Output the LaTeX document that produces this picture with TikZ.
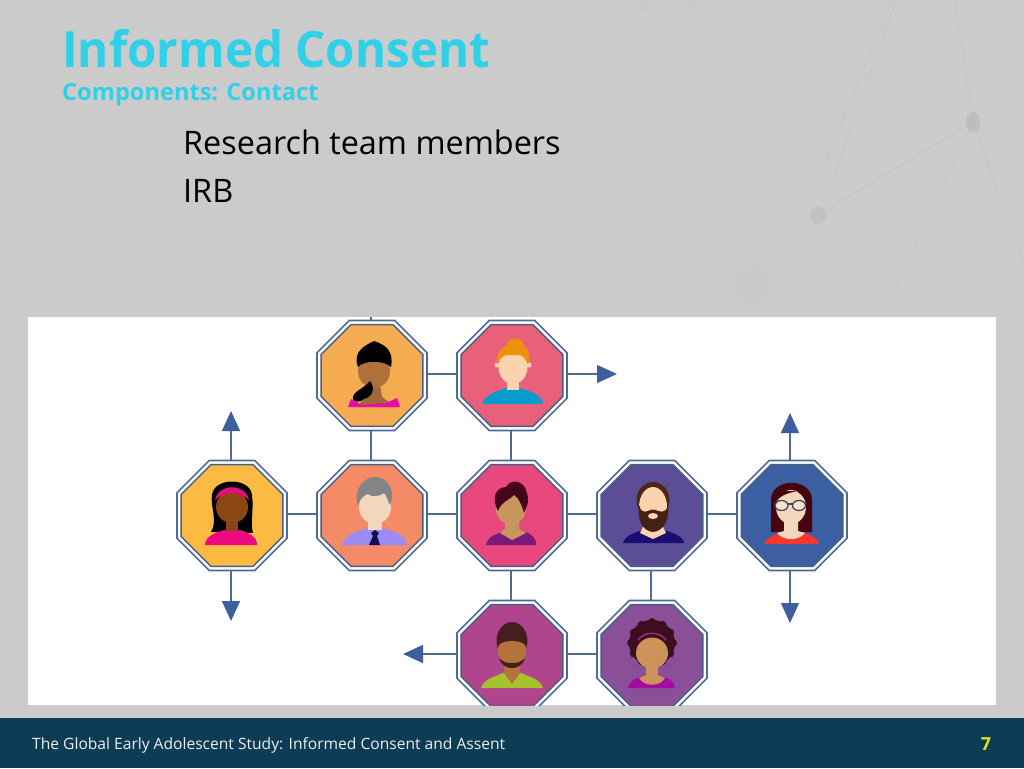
\documentclass[tikz,border=0pt]{standalone}
\usepackage{fontspec}
\setmainfont{Open Sans}
\newfontfamily\titlef[FakeStretch=0.95]{Open Sans}
\usetikzlibrary{shapes.geometric,arrows.meta,backgrounds}
\definecolor{bgc}{HTML}{CBCBCB}
\definecolor{linec}{HTML}{4F6A94}
\definecolor{arrc}{HTML}{3D5FA0}
\definecolor{cyanc}{HTML}{2FD0E8}
\definecolor{footc}{HTML}{0E3C55}
\definecolor{gold}{HTML}{E3E020}
\definecolor{skinA}{HTML}{FBD3AE}
\definecolor{skinB}{HTML}{F3D7BC}
\definecolor{ca}{HTML}{F5AC50}
\definecolor{cb}{HTML}{E9607A}
\definecolor{cc}{HTML}{FBBB42}
\definecolor{cd}{HTML}{F58A66}
\definecolor{ce}{HTML}{E9487F}
\definecolor{cf}{HTML}{5C4E96}
\definecolor{cg}{HTML}{3C5FA3}
\definecolor{ch}{HTML}{B0458E}
\definecolor{ci}{HTML}{8A4F99}
\tikzset{
  x=1pt,y=-1pt,
  octout/.style={regular polygon,regular polygon sides=8,minimum size=119pt,inner sep=0pt,draw=linec,line width=1.6pt,fill=white},
  octin/.style={regular polygon,regular polygon sides=8,minimum size=110pt,inner sep=0pt,draw=linec!90!black,line width=1.4pt},
  conn/.style={draw=linec,line width=1.4pt},
  arrowconn/.style={conn,-{Triangle[length=20pt,width=18pt,color=arrc]}},
  txt/.style={inner sep=0pt,anchor=base west},
  dim/.style={draw=black!23,line width=.8pt}
}
\newcommand{\octa}[4]{%
  \node[octout] (#1) at (#2,#3) {};
  \node[octin,fill=#4] (#1i) at (#2,#3) {};
}
\begin{document}
\begin{tikzpicture}
\useasboundingbox (0,0) rectangle (1024,768);
\begin{pgfonlayer}{background}
\fill[bgc] (0,0) rectangle (1024,768);
\draw[dim] (973,122)--(955,0) (973,122)--(818,215) (973,122)--(890,300) (973,122)--(1024,265);
\draw[dim] (892,0)--(822,170) (896,0)--(835,175);
\fill[black!26] (973,122) ellipse (7 and 10);
\fill[black!24] (818,215) ellipse (8 and 9);
\fill[black!21] (753,285) ellipse (16 and 20);
\fill[black!21] (643,5) circle (7);
\fill[black!21] (690,3) circle (6);
\fill[white] (28,317) rectangle (996,705);
\fill[footc] (0,718) rectangle (1024,768);
\end{pgfonlayer}
% texts
\node[txt,text=cyanc,font=\titlef\bfseries\fontsize{50}{50}\selectfont] (t1) at (62,67) {Informed Consent};
\node[txt,text=cyanc,font=\bfseries\fontsize{23.6}{24}\selectfont] (t2) at (62,100) {Components: Contact};
\node[txt,text=black,font=\fontsize{32.4}{33}\selectfont] (b1) at (183,154) {Research team members};
\node[txt,text=black,font=\fontsize{32.4}{33}\selectfont] (b2) at (183,202) {IRB};
\node[txt,text=white!92!footc,font=\fontsize{15.6}{16}\selectfont] (f1) at (32,749) {The Global Early Adolescent Study: Informed Consent and Assent};
\node[inner sep=0pt,text=gold,font=\bfseries\fontsize{18}{18}\selectfont] (f2) at (986,744) {7};
\begin{scope}
\clip (28,317) rectangle (996,705);
\coordinate (top) at (371,317);
\coordinate (e1) at (617,374);
\coordinate (e2) at (231,411);
\coordinate (e3) at (231,621);
\coordinate (e4) at (790,413);
\coordinate (e5) at (790,623);
\coordinate (e6) at (403,654);
\coordinate (rowa) at (0,374);
\coordinate (rowb) at (0,514);
\coordinate (rowc) at (0,654);
\coordinate (cola) at (371,0);
\coordinate (colb) at (511,0);
\coordinate (colc) at (651,0);
\octa{a}{372}{375.5}{ca}
\octa{b}{512}{375.5}{cb}
\octa{c}{232}{515.5}{cc}
\octa{d}{372}{515.5}{cd}
\octa{e}{512}{515.5}{ce}
\octa{f}{652}{515.5}{cf}
\octa{g}{792}{515.5}{cg}
\octa{h}{512}{655.5}{ch}
\octa{i}{652}{655.5}{ci}
% face a
\begin{scope}[shift={(372,375)}]
\fill[fill={rgb,255:red,160;green,105;blue,60}] (-16,32) -- (-6,22) -- (-4,10) -- (8,10) -- (10,22) -- (24,32) -- cycle;
\fill[fill={rgb,255:red,235;green,10;blue,170}] (-24,32) -- (-21,24) -- (-10,30) -- (14,28) -- (25,23) -- (28,32) -- cycle;
\fill[fill={rgb,255:red,175;green,112;blue,60}] (2,-4) ellipse (16 and 17);
\fill[black] (-14,-8) .. controls (-20,-24) and (-6,-30) .. (2,-34) .. controls (14,-30) and (22,-24) .. (19,-8) .. controls (12,-15) and (-8,-15) .. (-14,-8) -- cycle;
\fill[black] (-2,6) .. controls (4,14) and (0,22) .. (-8,24) .. controls (-12,28) and (-18,27) .. (-19,24) .. controls (-20,16) and (-8,14) .. (-2,6) -- cycle;
\end{scope}
% face b
\begin{scope}[shift={(512,375)}]
\fill[fill={rgb,255:red,10;green,155;blue,205}] (-30,29) .. controls (-28,20) and (-15,16) .. (-6,13) -- (8,13) .. controls (18,16) and (30,20) .. (31,29) -- cycle;
\fill[skinA] (-5,2) rectangle (7,15);
\fill[skinA] (-15,-10) circle (2.5) (17,-10) circle (2.5);
\fill[skinA] (1,-8) ellipse (14.5 and 17);
\fill[fill={rgb,255:red,235;green,145;blue,10}] (-15,-10) .. controls (-17,-24) and (-8,-28) .. (-5,-30) .. controls (-4,-38) and (8,-40) .. (12,-30) .. controls (18,-24) and (18,-16) .. (16,-10) .. controls (14,-16) and (11,-19) .. (8,-20) -- (-6,-20) .. controls (-10,-18) and (-13,-16) .. (-15,-10) -- cycle;
\end{scope}
% face c
\begin{scope}[shift={(232,515)}]
\fill[black] (-21,17) .. controls (-14,6) and (-22,-10) .. (-20,-20) .. controls (-18,-38) and (18,-38) .. (20,-20) .. controls (22,-5) and (18,8) .. (21,18) -- cycle;
\fill[fill={rgb,255:red,235;green,10;blue,130}] (-27,30) .. controls (-27,22) and (-18,18) .. (-8,15) -- (8,15) .. controls (18,18) and (25,22) .. (25,30) -- cycle;
\fill[fill={rgb,255:red,140;green,70;blue,20}] (-6,4) rectangle (6,16);
\fill[fill={rgb,255:red,140;green,70;blue,20}] (0,-8) ellipse (16 and 16);
\fill[fill={rgb,255:red,225;green,15;blue,125}] (-17,-15) .. controls (-14,-32) and (14,-32) .. (17,-15) .. controls (8,-24) and (-8,-24) .. (-17,-15) -- cycle;
\end{scope}
% face d
\begin{scope}[shift={(372,515)}]
\fill[fill={rgb,255:red,155;green,140;blue,245}] (-30,30) .. controls (-28,20) and (-15,16) .. (-4,13) -- (10,13) .. controls (22,16) and (34,20) .. (35,30) -- cycle;
\fill[skinB] (-4,0) rectangle (10,15);
\fill[skinB] (3,-8) ellipse (16 and 17);
\fill[fill={rgb,255:red,20;green,10;blue,80}] (3,15) -- (-1,18) -- (1,21) -- (-3,30) -- (8,30) -- (5,21) -- (7,18) -- cycle;
\fill[fill={rgb,255:red,130;green,132;blue,135}] (-14,-10) .. controls (-20,-24) and (-8,-38) .. (3,-38) .. controls (16,-38) and (24,-24) .. (18,-10) .. controls (16,-14) and (14,-20) .. (12,-22) .. controls (6,-18) and (0,-18) .. (-4,-21) .. controls (-8,-20) and (-12,-16) .. (-14,-10) -- cycle;
\end{scope}
% face e
\begin{scope}[shift={(512,515)}]
\fill[fill={rgb,255:red,125;green,25;blue,120}] (-26,30) .. controls (-25,22) and (-18,20) .. (-10,17) -- (14,17) .. controls (20,20) and (24,22) .. (24,30) -- cycle;
\fill[fill={rgb,255:red,200;green,150;blue,95}] (-7,3) -- (7,3) -- (7,14) -- (14,18) -- (0,25) -- (-12,18) -- (-7,14) -- cycle;
\fill[fill={rgb,255:red,200;green,150;blue,95}] (-1,-6) ellipse (15 and 15);
\fill[fill={rgb,255:red,70;green,5;blue,25}] (-14,-4) .. controls (-22,-20) and (-14,-28) .. (-6,-28) .. controls (-2,-36) and (12,-36) .. (15,-22) .. controls (18,-12) and (14,-8) .. (12,-2) .. controls (10,-10) and (6,-18) .. (2,-20) .. controls (-4,-14) and (-10,-14) .. (-14,-4) -- cycle;
\end{scope}
% face f
\begin{scope}[shift={(652,515)}]
\fill[fill={rgb,255:red,25;green,15;blue,115}] (-29,28) .. controls (-27,20) and (-16,17) .. (-6,14) -- (8,14) .. controls (18,17) and (31,20) .. (32,28) -- cycle;
\fill[skinA] (-9,12) -- (11,12) -- (14,18) -- (1,24) -- (-12,18) -- cycle;
\fill[fill={rgb,255:red,78;green,38;blue,22}] (1,-15) ellipse (16.5 and 18);
\fill[skinA] (1,-8) ellipse (14 and 20);
\fill[fill={rgb,255:red,70;green,32;blue,18}] (-13,-10) -- (-11,-5) .. controls (-8,-3) and (-6,-3) .. (-4,-4) .. controls (0,-6) and (2,-6) .. (6,-4) .. controls (9,-3) and (12,-3) .. (14,-5) -- (16,-10) .. controls (18,4) and (12,16) .. (1,17) .. controls (-10,16) and (-15,4) .. (-13,-10) -- cycle;
\fill[skinA] (1,1) ellipse (5 and 3);
\end{scope}
% face g
\begin{scope}[shift={(792,515)}]
\fill[fill={rgb,255:red,70;green,5;blue,15}] (-21,17) -- (-21,-15) .. controls (-21,-38) and (20,-38) .. (20,-15) -- (20,17) -- cycle;
\fill[fill={rgb,255:red,245;green,55;blue,45}] (-28,29) .. controls (-25,22) and (-18,20) .. (-10,17) -- (10,17) .. controls (18,20) and (25,22) .. (27,29) -- cycle;
\fill[skinB] (-8,5) -- (6,5) -- (6,16) -- (13,18) .. controls (7,26) and (-9,26) .. (-15,18) -- (-8,16) -- cycle;
\fill[skinB] (-1,-8) ellipse (15 and 17);
\fill[fill={rgb,255:red,70;green,5;blue,15}] (-16,-12) .. controls (-13,-20) and (-3,-22) .. (5,-24) .. controls (9,-20) and (13,-18) .. (14,-12) -- (14,-24) -- (-16,-24) -- cycle;
\draw[draw={rgb,255:red,75;green,70;blue,85},line width=1.3pt,fill=white,fill opacity=.3] (-10.5,-9.5) ellipse (6.5 and 5);
\draw[draw={rgb,255:red,75;green,70;blue,85},line width=1.3pt,fill=white,fill opacity=.3] (7,-9.5) ellipse (6.5 and 5);
\draw[draw={rgb,255:red,75;green,70;blue,85},line width=1.3pt] (-4,-11)--(0.5,-11);
\end{scope}
% face h
\begin{scope}[shift={(512,655)}]
\fill[fill={rgb,255:red,165;green,195;blue,45}] (-31,33) .. controls (-28,24) and (-18,22) .. (-9,18) -- (9,18) .. controls (18,22) and (28,24) .. (31,33) -- cycle;
\fill[fill={rgb,255:red,180;green,115;blue,60}] (-8,5) -- (8,5) -- (8,18) -- (0,29) -- (-8,18) -- cycle;
\fill[fill={rgb,255:red,70;green,30;blue,30}] (0,-14) ellipse (15.5 and 19);
\fill[fill={rgb,255:red,180;green,115;blue,60}] (-14,-8) .. controls (-12,-16) and (12,-16) .. (14,-8) .. controls (15,6) and (8,13) .. (0,13) .. controls (-8,13) and (-15,6) .. (-14,-8) -- cycle;
\fill[fill={rgb,255:red,70;green,30;blue,30}] (-13,3) .. controls (-8,8) and (-4,8) .. (0,8) .. controls (4,8) and (8,8) .. (13,3) .. controls (10,12) and (4,13) .. (0,13) .. controls (-4,13) and (-10,12) .. (-13,3) -- cycle;
\end{scope}
% face i
\begin{scope}[shift={(652,655)}]
\fill[fill={rgb,255:red,60;green,15;blue,30}] (0,-12) circle (23);
\foreach \ang in {0,30,...,330}
  \fill[fill={rgb,255:red,60;green,15;blue,30}] (0,-12) ++(\ang:21) circle (4);
\fill[fill={rgb,255:red,162;green,12;blue,160}] (-24,33) .. controls (-22,24) and (-14,23) .. (-8,21) -- (8,21) .. controls (14,23) and (22,24) .. (23,33) -- cycle;
\fill[fill={rgb,255:red,205;green,145;blue,90}] (-6,6) -- (6,6) -- (6,20) -- (13,23) .. controls (8,32) and (-8,32) .. (-13,23) -- (-6,20) -- cycle;
\fill[fill={rgb,255:red,205;green,145;blue,90}] (0,-2) ellipse (16 and 15.5);
\draw[draw={rgb,255:red,165;green,40;blue,130},line width=1.5pt] (-14,-15) .. controls (-8,-24) and (8,-24) .. (14,-15);
\end{scope}
\end{scope}
\begin{pgfonlayer}{background}
\draw[conn] (top)--(top |- a);
\draw[conn] (a |- rowa)--(b |- rowa);
\draw[conn] (c |- rowb)--(d |- rowb);
\draw[conn] (d |- rowb)--(e |- rowb);
\draw[conn] (e |- rowb)--(f |- rowb);
\draw[conn] (f |- rowb)--(g |- rowb);
\draw[conn] (h |- rowc)--(i |- rowc);
\draw[conn] (cola |- a)--(cola |- d);
\draw[conn] (colb |- b)--(colb |- e);
\draw[conn] (colb |- e)--(colb |- h);
\draw[conn] (colc |- f)--(colc |- i);
\draw[arrowconn] (b |- e1)--(e1);
\draw[arrowconn] (e2 |- c)--(e2);
\draw[arrowconn] (e3 |- c)--(e3);
\draw[arrowconn] (e4 |- g)--(e4);
\draw[arrowconn] (e5 |- g)--(e5);
\draw[arrowconn] (h |- e6)--(e6);
\end{pgfonlayer}
\end{tikzpicture}
\end{document}
